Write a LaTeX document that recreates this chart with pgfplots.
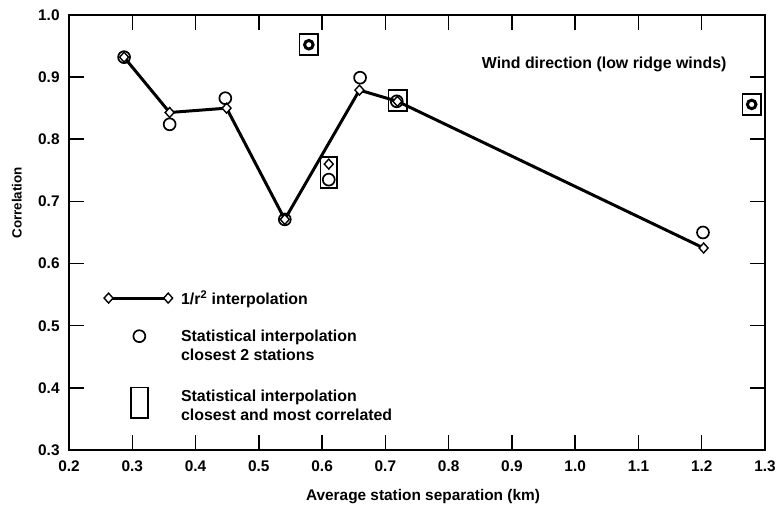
\documentclass[border=0pt]{standalone}
\usepackage{pgfplots}
\pgfplotsset{compat=1.18}
\usepackage{fontspec}
\setmainfont{Liberation Sans}

\newcommand{\chartfont}{\fontsize{15.5}{19}\selectfont\bfseries}
\newcommand{\keyfont}{\fontsize{16}{19}\selectfont\bfseries}

\begin{document}
\begin{tikzpicture}[x=1pt,y=1pt]
\begin{axis}[
  at={(69.5pt,50pt)}, anchor=south west,
  scale only axis, width=700.5pt, height=438pt,
  xmin=0.2, xmax=1.3, ymin=0.3, ymax=1.0,
  xtick={0.2,0.3,0.4,0.5,0.6,0.7,0.8,0.9,1.0,1.1,1.2,1.3},
  xticklabels={0.2,0.3,0.4,0.5,0.6,0.7,0.8,0.9,1.0,1.1,1.2,1.3},
  ytick={0.3,0.4,0.5,0.6,0.7,0.8,0.9,1.0},
  yticklabels={0.3,0.4,0.5,0.6,0.7,0.8,0.9,1.0},
  tick align=inside, xtick pos=both, ytick pos=both,
  major tick length=15pt,
  axis line style={line width=1.8pt},
  every tick/.style={black, line width=1.5pt},
  ticklabel style={font=\chartfont},
  yticklabel style={xshift=-6pt},
  xticklabel style={yshift=-7pt},
  xlabel={Average station separation (km)},
  xlabel style={font=\chartfont, at={(axis description cs:0.5,0)}, anchor=center, yshift=-47pt, xshift=6pt},
  ylabel={Correlation},
  ylabel style={font=\fontsize{13.5}{16}\selectfont\bfseries, at={(axis description cs:-0.075,0.568)}, anchor=center},
  clip=false,
  legend cell align=left,
  legend style={
    at={(axis cs:0.248,0.5636)}, anchor=north west,
    draw=none, fill=none, font=\keyfont,
    cells={align=left}, column sep=5pt, row sep=20.5pt,
  },
]

% 1/r^2 interpolation
\addplot[black, line width=3pt, mark=diamond*, mark size=5pt,
  mark options={fill=white, line width=1.4pt, solid, xscale=1.2}, forget plot]
  coordinates {(0.287,0.932) (0.359,0.843) (0.449,0.850) (0.541,0.671)
               (0.659,0.879) (0.719,0.861) (1.203,0.625)};
\addplot[black, only marks, mark=diamond*, mark size=5pt,
  mark options={fill=white, line width=1.4pt, xscale=1.2}, forget plot]
  coordinates {(0.6105,0.760)};

% statistical interpolation, closest 2 stations
\addplot[black, only marks, mark=o, mark size=6pt, line width=1.7pt, forget plot]
  coordinates {(0.287,0.932) (0.359,0.824) (0.447,0.866) (0.541,0.671)
               (0.660,0.899) (0.718,0.861) (1.202,0.650) (0.6105,0.735)};
\addplot[black, only marks, mark=o, mark size=4.3pt, line width=3pt, forget plot]
  coordinates {(0.579,0.952) (1.279,0.856)};

% statistical interpolation, closest and most correlated
\addplot[black, only marks, mark=square, mark size=9.3pt,
  mark options={yscale=1.14, line width=1.7pt}, forget plot]
  coordinates {(0.579,0.952) (0.7196,0.862) (1.279,0.856)};
\addplot[black, only marks, mark=square, mark size=9.3pt,
  mark options={xscale=0.88, yscale=1.68, line width=1.7pt}, forget plot]
  coordinates {(0.6105,0.746)};

\addlegendimage{legend image code/.code={
  \path[draw=none, fill=none] (-6pt,-8pt) rectangle (66pt,8pt);
  \draw[black, line width=3pt] (0pt,0pt) -- (60pt,0pt);
  \draw[black, line width=1.4pt, mark=diamond*, mark size=5pt,
    mark options={fill=white, solid, xscale=1.2}]
    plot[only marks] coordinates {(0pt,0pt) (60pt,0pt)};}}
\addlegendentry{1/r\textsuperscript{2} interpolation}
\addlegendimage{legend image code/.code={
  \path[draw=none, fill=none] (-6pt,-8pt) rectangle (66pt,8pt);
  \draw[black, line width=1.7pt, mark=o, mark size=6pt]
    plot coordinates {(31pt,10pt)};}}
\addlegendentry{Statistical interpolation\\closest 2 stations}
\addlegendimage{legend image code/.code={
  \path[draw=none, fill=none] (-6pt,-21.5pt) rectangle (66pt,21.5pt);
  \draw[black, line width=1.7pt, mark=square, mark size=8.5pt,
    mark options={yscale=1.82}]
    plot coordinates {(31pt,3pt)};}}
\addlegendentry{Statistical interpolation\\closest and most correlated}

\node[font=\keyfont, anchor=west] at (axis cs:0.847,0.920)
  {Wind direction (low ridge winds)};
\end{axis}
\path[use as bounding box] (0,0) rectangle (779,503);
\end{tikzpicture}
\end{document}
